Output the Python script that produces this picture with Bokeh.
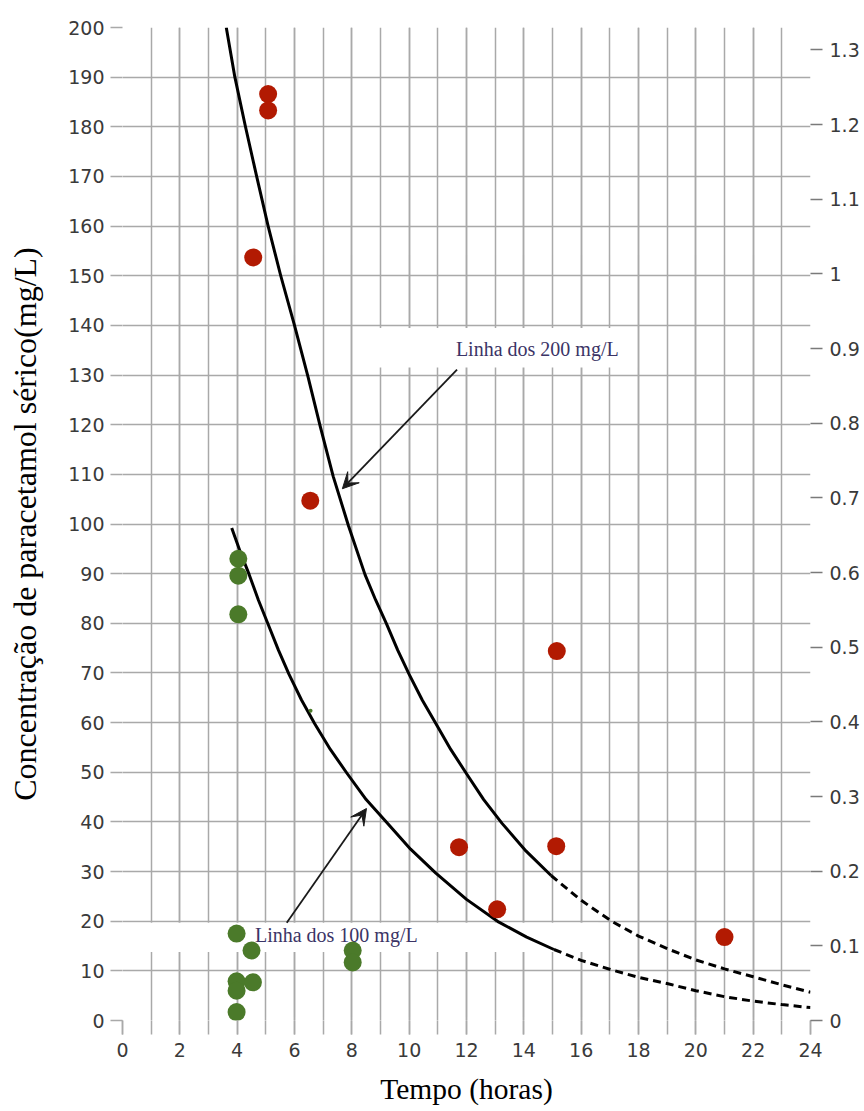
from bokeh.plotting import figure
from bokeh.models import (Range1d, LinearAxis, FixedTicker, BoxAnnotation, Label,
                          Arrow, VeeHead)
from bokeh.embed import file_html
from bokeh.resources import INLINE

# ---------------- data ----------------
hour_ticks = [0, 2, 4, 6, 8, 10, 12, 14, 16, 18, 20, 22, 24]
hour_minor = list(range(0, 25))
conc_ticks = [0, 10, 20, 30, 40, 50, 60, 70, 80, 90, 100, 110, 120, 130, 140,
              150, 160, 170, 180, 190, 200]
mmol_ticks = [0, 0.1, 0.2, 0.3, 0.4, 0.5, 0.6, 0.7, 0.8, 0.9, 1, 1.1, 1.2, 1.3]
mmol_labels = ["0", "0.1", "0.2", "0.3", "0.4", "0.5", "0.6", "0.7", "0.8",
               "0.9", "1", "1.1", "1.2", "1.3"]

line200_t = [3.62, 3.92, 4.29, 4.68, 5.08, 5.52, 6.0, 6.47, 6.9, 7.35,
             7.88, 8.46, 8.83, 9.21, 9.6, 10.0, 10.46, 10.93, 11.45, 11.99,
             12.6, 13.24, 14.08, 14.95]
line200_c = [200, 190, 180, 170, 160, 150, 140, 129.7, 119.6, 109.6,
             99.7, 89.8, 84.7, 79.9, 74.6, 69.7, 64.5, 59.8, 54.6, 49.8,
             44.5, 39.7, 34.1, 29.2]
line200_dash_t = [14.95, 16.0, 17.06, 18.0, 19.03, 20.0, 21.0, 22.0, 23.0, 24.0]
line200_dash_c = [29.2, 24.2, 20.0, 17.0, 14.4, 12.2, 10.4, 8.8, 7.2, 5.7]

line100_t = [3.81, 4.1, 4.42, 4.74, 5.08, 5.44, 5.81, 6.24, 6.70, 7.25, 7.83,
             8.5, 9.25, 10.05, 10.93, 12.0, 13.13, 14.1, 15.05]
line100_c = [99.2, 94.5, 89.8, 84.7, 79.8, 74.6, 69.7, 64.6, 59.8, 54.6, 49.8,
             44.5, 39.7, 34.5, 29.7, 24.4, 19.8, 16.8, 14.3]
line100_dash_t = [15.05, 16.0, 17.06, 18.0, 19.03, 20.0, 21.0, 22.0, 23.0, 24.0]
line100_dash_c = [14.3, 12.1, 10.2, 8.7, 7.4, 6.0, 4.8, 3.9, 3.2, 2.6]

red_t = [5.08, 5.08, 4.56, 6.55, 11.74, 13.07, 15.15, 15.13, 21.0]
red_c = [186.6, 183.3, 153.7, 104.7, 34.9, 22.4, 74.4, 35.1, 16.8]
green_t = [4.04, 4.04, 4.04, 3.98, 4.5, 3.98, 3.98, 4.55, 3.98, 8.03, 8.03]
green_c = [93.0, 89.6, 81.8, 17.5, 14.1, 7.9, 6.0, 7.7, 1.7, 14.1, 11.7]
speck_t = [6.56]
speck_c = [62.4]

label200 = "Linha dos 200 mg/L"
label100 = "Linha dos 100 mg/L"
x_title = "Tempo (horas)"
y_title = "Concentração de paracetamol sérico(mg/L)"

# ---------------- styles ----------------
GRID = "#a9a9a9"
TICKTXT = "#3a3a3a"
RED = "#b21a02"
GREEN = "#4b7a2a"
NAVY = "#3b3466"
SANS = "DejaVu Sans"
SERIF = "Liberation Serif"

p = figure(width=862, height=1111, x_range=Range1d(0, 24), y_range=Range1d(0, 200),
           output_backend="svg", toolbar_location=None,
           min_border_left=122, min_border_top=27, min_border_right=49,
           min_border_bottom=91)
p.outline_line_color = None
p.background_fill_color = "white"

# grid
p.xgrid.grid_line_color = GRID
p.xgrid.minor_grid_line_color = GRID
p.xgrid.grid_line_width = 1.5
p.xgrid.minor_grid_line_width = 1.5
p.ygrid.grid_line_color = GRID
p.ygrid.grid_line_width = 1.5

# bottom axis
xa = p.xaxis[0]
xa.ticker = FixedTicker(ticks=hour_ticks, minor_ticks=hour_minor)
xa.axis_line_color = None
xa.major_tick_line_color = GRID
xa.minor_tick_line_color = GRID
xa.major_tick_line_width = 1.5
xa.minor_tick_line_width = 1.5
xa.major_tick_in = 0
xa.minor_tick_in = 0
xa.major_tick_out = 14
xa.minor_tick_out = 14
xa.major_label_standoff = 8
xa.major_label_text_font = SANS
xa.major_label_text_font_size = "19px"
xa.major_label_text_color = TICKTXT
xa.axis_label = x_title
xa.axis_label_text_font = SERIF
xa.axis_label_text_font_size = "29.5px"
xa.axis_label_text_font_style = "normal"
xa.axis_label_text_color = "black"
xa.axis_label_standoff = 13

# left axis
ya = p.yaxis[0]
ya.ticker = FixedTicker(ticks=conc_ticks)
ya.axis_line_color = None
ya.major_tick_line_color = GRID
ya.major_tick_line_width = 1.5
ya.major_tick_in = 0
ya.major_tick_out = 12
ya.minor_tick_line_color = None
ya.major_label_standoff = 6
ya.major_label_text_font = SANS
ya.major_label_text_font_size = "19px"
ya.major_label_text_color = TICKTXT
ya.axis_label = y_title
ya.axis_label_text_font = SERIF
ya.axis_label_text_font_size = "32px"
ya.axis_label_text_font_style = "normal"
ya.axis_label_text_color = "black"
ya.axis_label_standoff = 22

# right axis (mmol/L)
p.extra_y_ranges = {"mmol": Range1d(0, 1.33)}
ra = LinearAxis(y_range_name="mmol", ticker=FixedTicker(ticks=mmol_ticks),
                major_label_overrides=dict(zip(mmol_ticks, mmol_labels)))
ra.axis_line_color = None
ra.major_tick_line_color = "#7a7a7a"
ra.major_tick_line_width = 1.5
ra.major_tick_in = 0
ra.major_tick_out = 12
ra.minor_tick_line_color = None
ra.major_label_standoff = 7
ra.major_label_text_font = SANS
ra.major_label_text_font_size = "19px"
ra.major_label_text_color = TICKTXT
p.add_layout(ra, "right")

# white label boxes
box200 = BoxAnnotation(left=8.7, right=17.95, bottom=131.5, top=139.5,
                       fill_color="white", fill_alpha=1, line_color=None, level="underlay")
box100 = BoxAnnotation(left=-0.2, right=16.6, bottom=13.8, top=19.7,
                       fill_color="white", fill_alpha=1, line_color=None, level="underlay")
p.add_layout(box200)
p.add_layout(box100)

p.add_layout(Label(x=11.63, y=133.0, text=label200, text_font=SERIF,
                   text_font_size="20px", text_color=NAVY, level="underlay"))
p.add_layout(Label(x=4.62, y=15.1, text=label100, text_font=SERIF,
                   text_font_size="20px", text_color=NAVY, level="underlay"))

# curves
p.line(line200_t, line200_c, line_color="black", line_width=3, line_join="round")
p.line(line200_dash_t, line200_dash_c, line_color="black", line_width=3, line_dash="8 5")
p.line(line100_t, line100_c, line_color="black", line_width=3, line_join="round")
p.line(line100_dash_t, line100_dash_c, line_color="black", line_width=3, line_dash="8 5")

# points
p.scatter(red_t, red_c, size=18, fill_color=RED, line_color=None)
p.scatter(green_t, green_c, size=18, fill_color=GREEN, line_color=None)
p.scatter(speck_t, speck_c, size=4, fill_color=GREEN, line_color=None)

# arrows
p.add_layout(Arrow(end=VeeHead(size=16, fill_color="#1a1a1a", line_color="#1a1a1a"),
                   x_start=11.67, y_start=131.1, x_end=7.67, y_end=107.1,
                   line_width=1.8, line_color="#1a1a1a"))
p.add_layout(Arrow(end=VeeHead(size=16, fill_color="#1a1a1a", line_color="#1a1a1a"),
                   x_start=5.73, y_start=19.7, x_end=8.51, y_end=42.7,
                   line_width=1.8, line_color="#1a1a1a"))

open("out.html", "w").write(file_html(p, INLINE))
